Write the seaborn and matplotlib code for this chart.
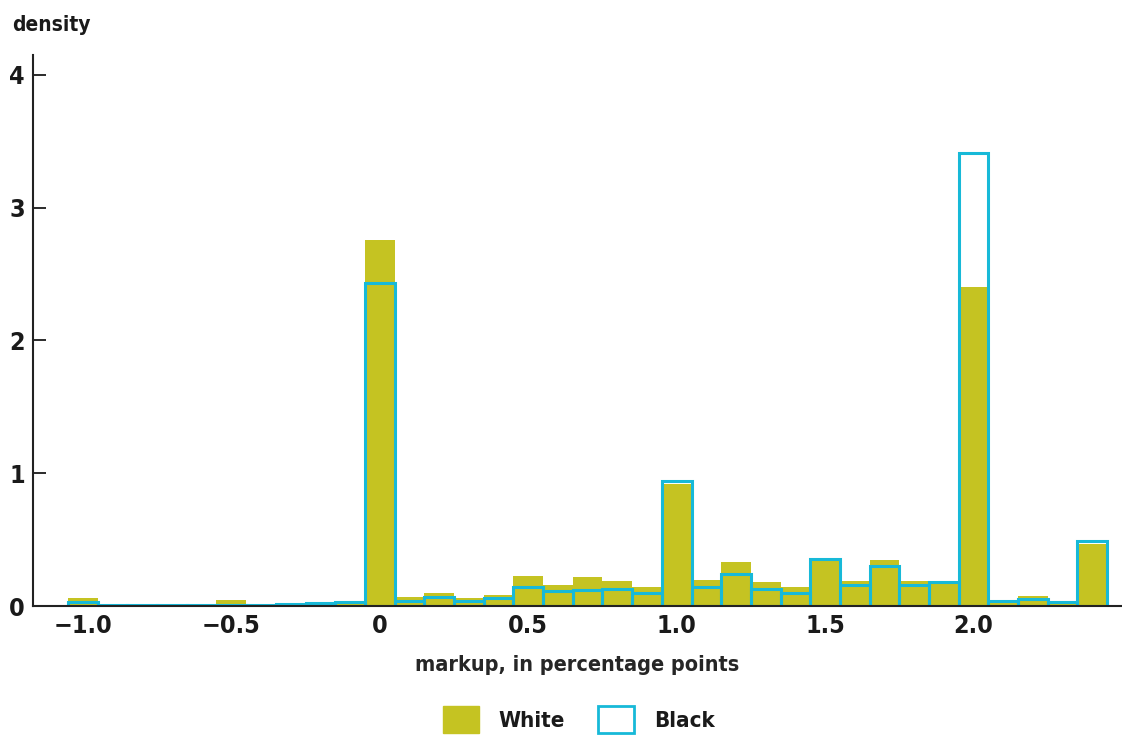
import matplotlib
matplotlib.use("Agg")
import matplotlib.pyplot as plt
import pandas as pd
import seaborn as sns
from matplotlib.patches import Patch

# bin centres (width 0.1) and densities
centers = [-1.0, -0.9, -0.8, -0.7, -0.6, -0.5, -0.4, -0.3, -0.2, -0.1,
           0.0, 0.1, 0.2, 0.3, 0.4, 0.5, 0.6, 0.7, 0.8, 0.9,
           1.0, 1.1, 1.2, 1.3, 1.4, 1.5, 1.6, 1.7, 1.8, 1.9,
           2.0, 2.1, 2.2, 2.3, 2.4]
white = [0.06, 0.005, 0.005, 0.005, 0.005, 0.045, 0.01, 0.025, 0.025, 0.03,
         2.76, 0.07, 0.095, 0.06, 0.08, 0.225, 0.16, 0.22, 0.185, 0.14,
         0.92, 0.195, 0.335, 0.18, 0.14, 0.36, 0.19, 0.35, 0.19, 0.18,
         2.40, 0.04, 0.075, 0.02, 0.47]
black = [0.03, 0.01, 0.01, 0.01, 0.01, 0.01, 0.01, 0.015, 0.02, 0.03,
         2.43, 0.04, 0.065, 0.035, 0.06, 0.14, 0.11, 0.12, 0.13, 0.10,
         0.94, 0.14, 0.24, 0.13, 0.10, 0.355, 0.155, 0.30, 0.16, 0.18,
         3.41, 0.035, 0.05, 0.03, 0.49]
groups = ["White", "Black"]
xticks = [-1.0, -0.5, 0.0, 0.5, 1.0, 1.5, 2.0]
xticklabels = ["\u22121.0", "\u22120.5", "0", "0.5", "1.0", "1.5", "2.0"]
yticks = [0, 1, 2, 3, 4]

olive = "#c5c322"
cyan = "#17b9d8"

df = pd.DataFrame({
    "markup": centers * 2,
    "density": white + black,
    "group": [groups[0]] * len(centers) + [groups[1]] * len(centers),
})
edges = [round(c - 0.05, 3) for c in centers] + [round(centers[-1] + 0.05, 3)]

sns.set_style("white")
plt.rcParams["font.family"] = ["DejaVu Sans"]
plt.rcParams["font.stretch"] = "condensed"
plt.rcParams["font.weight"] = "bold"
plt.rcParams["text.color"] = "#1a1a1a"
plt.rcParams["xtick.color"] = "#1a1a1a"
plt.rcParams["ytick.color"] = "#1a1a1a"

fig = plt.figure(figsize=(11.22, 7.36), dpi=100)
ax = fig.add_axes([0.0294, 0.1766, 0.9706, 0.7486])

sns.histplot(data=df[df["group"] == "White"], x="markup", weights="density",
             bins=edges, color=olive, alpha=1, fill=True, linewidth=0,
             ax=ax)
sns.histplot(data=df[df["group"] == "Black"], x="markup", weights="density",
             bins=edges, color=cyan, fill=False, linewidth=2.2,
             ax=ax)

ax.set_xlim(-1.168, 2.5)
ax.set_ylim(0, 4.15)
ax.set_xticks(xticks)
ax.set_xticklabels(xticklabels)
ax.set_yticks(yticks)
ax.tick_params(axis="x", length=0, pad=6, labelsize=18)
ax.tick_params(axis="y", direction="in", length=9, width=1.3, pad=6,
               labelsize=18, left=True)
for s in ["top", "right"]:
    ax.spines[s].set_visible(False)
for s in ["left", "bottom"]:
    ax.spines[s].set_color("#222222")
    ax.spines[s].set_linewidth(1.5)
ax.set_ylabel("")
ax.set_xlabel("markup, in percentage points", fontsize=15.5, fontweight="bold",
              labelpad=12)
fig.text(0.011, 0.966, "density", fontsize=15, fontweight="bold",
         ha="left", va="center")

handles = [Patch(facecolor=olive, edgecolor=olive),
           Patch(facecolor="white", edgecolor=cyan, linewidth=2)]
fig.legend(handles, groups, loc="center", bbox_to_anchor=(0.516, 0.022),
           ncol=2, frameon=False, fontsize=16, handlelength=1.6,
           handleheight=1.5, columnspacing=1.5, handletextpad=0.9)

fig.savefig("out.png", dpi=100)
